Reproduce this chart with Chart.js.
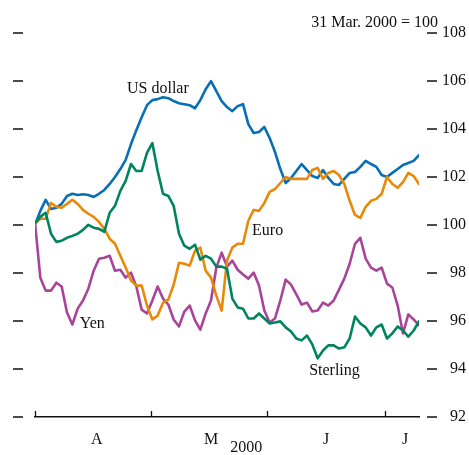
<!DOCTYPE html>
<html>
<head>
<meta charset="utf-8">
<script src="https://cdn.jsdelivr.net/npm/chart.js@4"></script>
<style>
  html, body { margin: 0; padding: 0; background: #fff; }
</style>
</head>
<body>
<canvas id="chart" width="469" height="455"></canvas>
<script>
// Índices de câmbio efetivos, 31 Mar. 2000 = 100 (um ponto por dia útil)
const usDollar = [
  100.00, 100.58, 101.04, 100.66, 100.71, 100.87, 101.20, 101.29, 101.24, 101.27,
  101.24, 101.16, 101.29, 101.45, 101.70, 101.99, 102.32, 102.70, 103.36, 103.94,
  104.48, 104.98, 105.19, 105.23, 105.31, 105.27, 105.15, 105.06, 105.02, 104.98,
  104.85, 105.19, 105.64, 105.98, 105.56, 105.15, 104.90, 104.73, 104.94, 105.02,
  104.19, 103.82, 103.86, 104.07, 103.61, 103.03, 102.32, 101.74, 101.95, 102.24,
  102.53, 102.28, 102.03, 101.95, 102.28, 101.95, 101.70, 101.66, 101.91, 102.16,
  102.20, 102.41, 102.66, 102.53, 102.41, 102.07, 101.99, 102.16, 102.32, 102.49,
  102.57, 102.66, 102.90
];
const euro = [
  100.04, 100.25, 100.25, 100.91, 100.75, 100.71, 100.87, 101.04, 100.87, 100.62,
  100.46, 100.33, 100.12, 99.83, 99.42, 99.21, 98.71, 98.22, 97.68, 97.47,
  97.47, 96.64, 96.06, 96.22, 96.76, 96.89, 97.51, 98.42, 98.38, 98.30,
  98.92, 99.05, 98.09, 97.80, 97.05, 96.43, 98.51, 99.05, 99.21, 99.21,
  100.17, 100.62, 100.58, 100.91, 101.37, 101.49, 101.74, 101.99, 101.91, 101.91,
  101.91, 101.91, 102.28, 102.37, 101.91, 102.16, 102.24, 102.07, 101.70, 101.00,
  100.41, 100.29, 100.75, 101.00, 101.08, 101.29, 101.99, 101.70, 101.54, 101.78,
  102.16, 102.03, 101.70
];
const sterling = [
  100.08, 100.33, 100.50, 99.63, 99.29, 99.34, 99.46, 99.54, 99.63, 99.79,
  100.00, 99.88, 99.83, 99.71, 100.50, 100.79, 101.41, 101.83, 102.53, 102.24,
  102.24, 102.99, 103.40, 102.24, 101.29, 101.20, 100.79, 99.63, 99.13, 99.00,
  99.17, 98.55, 98.71, 98.59, 98.26, 98.26, 98.17, 96.93, 96.56, 96.51,
  96.10, 96.10, 96.31, 96.10, 95.89, 95.93, 95.98, 95.73, 95.56, 95.27,
  95.19, 95.39, 95.02, 94.44, 94.77, 94.98, 94.98, 94.85, 94.90, 95.27,
  96.18, 95.89, 95.73, 95.39, 95.73, 95.85, 95.27, 95.48, 95.77, 95.60,
  95.35, 95.60, 95.98
];
const yen = [
  100.08, 97.80, 97.26, 97.26, 97.59, 97.43, 96.35, 95.85, 96.51, 96.85,
  97.34, 98.09, 98.59, 98.63, 98.71, 98.09, 98.13, 97.80, 98.01, 97.43,
  96.47, 96.31, 96.85, 97.43, 96.93, 96.68, 96.06, 95.77, 96.39, 96.64,
  96.02, 95.64, 96.31, 96.85, 98.22, 98.84, 98.26, 98.51, 98.13, 97.93,
  97.76, 98.01, 97.47, 96.43, 95.93, 96.10, 96.85, 97.72, 97.51, 97.10,
  96.68, 96.76, 96.39, 96.43, 96.76, 96.64, 96.85, 97.30, 97.76, 98.38,
  99.21, 99.46, 98.59, 98.22, 98.09, 98.22, 97.55, 97.39, 96.64, 95.48,
  96.27, 96.06, 95.81
];

const yTicks = [92, 94, 96, 98, 100, 102, 104, 106, 108];
const monthStarts = [0, 21.75, 43.5, 65.6];     // 1º dia útil de abr, mai, jun, jul
const monthMids = [11.6, 33, 54.6, 69.4];
const monthLabels = ['A', 'M', 'J', 'J'];
const yearLabel = '2000';
const baseNote = '31 Mar. 2000 = 100';

// rótulos das séries: [texto, índice x, valor y]
const seriesLabels = [
  ['US dollar', 17.25, 105.68],
  ['Euro', 40.7, 99.75],
  ['Yen', 8.4, 95.89],
  ['Sterling', 51.4, 93.94]
];

const fontFamily = "'Liberation Serif', 'Times New Roman', serif";
Chart.defaults.font.family = fontFamily;
Chart.defaults.font.size = 16;
Chart.defaults.color = '#111';

const toPoints = arr => arr.map((v, i) => ({ x: i, y: v }));

const decor = {
  id: 'decor',
  afterDraw(chart) {
    const { ctx, chartArea: area, scales: { x, y } } = chart;
    ctx.save();
    ctx.strokeStyle = '#111';
    ctx.lineWidth = 1.6;

    // tracinhos soltos dos dois lados
    yTicks.forEach(v => {
      const py = Math.round(y.getPixelForValue(v));
      ctx.beginPath();
      ctx.moveTo(area.left - 22, py); ctx.lineTo(area.left - 12, py);
      ctx.moveTo(area.right + 8, py); ctx.lineTo(area.right + 18, py);
      ctx.stroke();
    });

    // marcas de mês, viradas pra dentro
    ctx.lineWidth = 1.3;
    monthStarts.forEach(v => {
      const px = Math.round(x.getPixelForValue(v)) + 0.5;
      ctx.beginPath();
      ctx.moveTo(px, area.bottom - 6);
      ctx.lineTo(px, area.bottom);
      ctx.stroke();
    });

    ctx.fillStyle = '#111';
    ctx.font = '16px ' + fontFamily;
    ctx.textBaseline = 'middle';

    ctx.textAlign = 'left';
    seriesLabels.forEach(([t, xv, yv]) => {
      ctx.fillText(t, x.getPixelForValue(xv), y.getPixelForValue(yv));
    });

    ctx.textAlign = 'center';
    ctx.fillText(yearLabel, x.getPixelForValue(39.6), area.bottom + 31);

    ctx.textAlign = 'right';
    ctx.fillText(baseNote, area.right + 19, area.top - 10);
    ctx.restore();
  }
};

const line = (label, data, color) => ({
  label, data: toPoints(data),
  borderColor: color, borderWidth: 2.6,
  pointRadius: 0, tension: 0,
  borderJoinStyle: 'round', borderCapStyle: 'round'
});

new Chart(document.getElementById('chart'), {
  type: 'line',
  data: {
    datasets: [
      line('Sterling', sterling, '#00845d'),
      line('Euro', euro, '#e8890a'),
      line('Yen', yen, '#a8449a'),
      line('US dollar', usDollar, '#076fb3')
    ]
  },
  options: {
    responsive: false,
    animation: false,
    events: [],
    layout: { padding: { left: 35, top: 31, right: 3, bottom: 0 } },
    plugins: { legend: { display: false }, tooltip: { enabled: false } },
    scales: {
      x: {
        type: 'linear',
        min: 0, max: usDollar.length - 1,
        grid: { display: false },
        border: { display: true, color: '#111', width: 1.5 },
        afterBuildTicks: s => { s.ticks = monthMids.map(v => ({ value: v })); },
        afterFit: s => { s.height = 38; },
        ticks: {
          autoSkip: false, maxRotation: 0, padding: 5,
          callback: (v, i) => monthLabels[i]
        }
      },
      y: {
        position: 'right',
        min: 92, max: 108,
        grid: { display: false },
        border: { display: false },
        afterBuildTicks: s => { s.ticks = yTicks.map(v => ({ value: v })); },
        afterFit: s => { s.width = 47; },
        ticks: { padding: 23, crossAlign: 'far' }
      }
    }
  },
  plugins: [decor]
});
</script>
</body>
</html>
